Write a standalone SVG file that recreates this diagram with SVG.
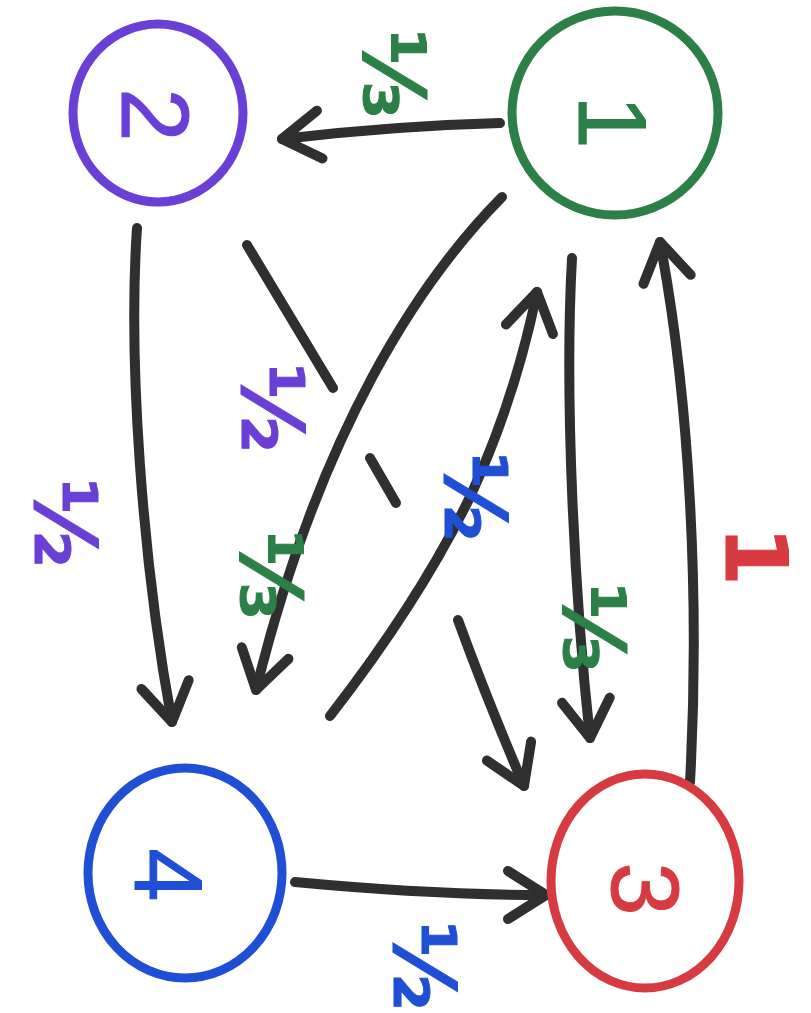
<svg xmlns="http://www.w3.org/2000/svg" width="811" height="1013" viewBox="0 0 811 1013">
<style>
.node{fill:none;stroke-width:9;stroke-linecap:round}
.num{font-family:"Liberation Sans","DejaVu Sans",sans-serif;font-size:96px;text-anchor:middle;dominant-baseline:central}
.lbl{font-family:"DejaVu Sans","Liberation Sans",sans-serif;font-size:86px;font-weight:bold;text-anchor:middle;dominant-baseline:central}
.edge{fill:none;stroke:#2f2f2f;stroke-width:10;stroke-linecap:round;stroke-linejoin:round}
.p{fill:#6a3fd6;stroke:#6a3fd6}
.g{fill:#2b8048;stroke:#2b8048}
.b{fill:#1f4fd4;stroke:#1f4fd4}
.r{fill:#d83a42;stroke:#d83a42}
</style>
<defs>
<marker id="arr" viewBox="-45 -35 55 70" markerWidth="55" markerHeight="70" refX="0" refY="0" markerUnits="userSpaceOnUse" orient="auto" overflow="visible">
<path d="M -38 -24 L 0 0 L -38 24" fill="none" stroke="#2f2f2f" stroke-width="10" stroke-linecap="round" stroke-linejoin="round"/>
</marker>
</defs>
<g id="connectors">
<path id="e1-2" class="edge" d="M 500 123 C 420 125 350 131 282 139" marker-end="url(#arr)"/>
<path id="e2-4" class="edge" d="M 137 228 C 128 360 142 560 172 722" marker-end="url(#arr)"/>
<path id="e2-3a" class="edge" d="M 247 245 L 333 388"/>
<path id="e2-3b" class="edge" d="M 370 458 L 396 503"/>
<path id="e2-3c" class="edge" d="M 458 620 C 478 675 500 730 524 786" marker-end="url(#arr)"/>
<path id="e1-4" class="edge" d="M 502 197 C 420 280 320 430 256 690" marker-end="url(#arr)"/>
<path id="e4-1" class="edge" d="M 330 716 Q 420 600 470 497 Q 515 400 537 292" marker-end="url(#arr)"/>
<path id="e1-3" class="edge" d="M 572 258 C 564 400 575 600 590 738" marker-end="url(#arr)"/>
<path id="e3-1" class="edge" d="M 690 782 C 700 600 690 400 660 242" marker-end="url(#arr)"/>
<path id="e4-3" class="edge" d="M 295 882 C 380 890 460 895 546 895" marker-end="url(#arr)"/>
</g>
<g id="node1">
<ellipse class="node" cx="615" cy="113" rx="103" ry="102" stroke="#2b8048"/>
<text class="num g" stroke="none" transform="translate(612,122) rotate(90)">1</text>
</g>
<g id="node2">
<ellipse class="node" cx="158" cy="113" rx="85" ry="89" stroke="#6a3fd6"/>
<text class="num p" stroke="none" transform="translate(155,115) rotate(90)">2</text>
</g>
<g id="node3">
<ellipse class="node" cx="645" cy="881" rx="94" ry="107" stroke="#d83a42"/>
<text class="num r" stroke="none" transform="translate(645,889) rotate(90)">3</text>
</g>
<g id="node4">
<ellipse class="node" cx="185" cy="873" rx="97" ry="105" stroke="#1f4fd4"/>
<text class="num b" stroke="none" transform="translate(168,875) rotate(90)">4</text>
</g>
<g id="labels">
<text class="lbl g" stroke="none" transform="translate(394,74) rotate(90)">⅓</text>
<text class="lbl p" stroke="none" transform="translate(65,523) rotate(90)">½</text>
<text class="lbl p" stroke="none" transform="translate(272,408) rotate(90)">½</text>
<text class="lbl b" stroke="none" transform="translate(475,497) rotate(90)">½</text>
<text class="lbl g" stroke="none" transform="translate(271,575) rotate(90)">⅓</text>
<text class="lbl g" stroke="none" transform="translate(594,628) rotate(90)">⅓</text>
<text class="lbl r" stroke="none" transform="translate(756,556) rotate(90)">1</text>
<text class="lbl b" stroke="none" transform="translate(424,966) rotate(90)">½</text>
</g>
</svg>
